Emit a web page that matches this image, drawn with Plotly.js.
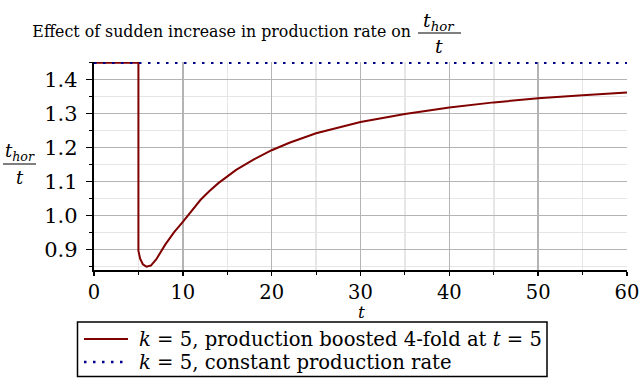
<!DOCTYPE html>
<html>
<head>
<meta charset="utf-8">
<script src="https://cdn.plot.ly/plotly-3.0.1.min.js"></script>
<style>html,body{margin:0;padding:0;background:#fff;}#chart{width:640px;height:379px;}</style>
</head>
<body>
<div id="chart"></div>
<script>
// Boosted production (k = 5, 4-fold boost at t = 5)
const boostedT = [0, 5, 5, 5.2, 5.5, 5.9, 6.4, 7, 8, 9, 10, 11, 12, 13, 14, 16, 18, 20, 22, 25, 30, 35, 40, 45, 50, 55, 60];
const boostedV = [1.45, 1.45, 0.895, 0.872, 0.856, 0.849, 0.852, 0.870, 0.913, 0.950, 0.981, 1.015, 1.046, 1.072, 1.095, 1.134, 1.165, 1.192, 1.214, 1.242, 1.275, 1.299, 1.318, 1.333, 1.345, 1.354, 1.362];
// Constant production rate (k = 5)
const constT = [0, 60];
const constV = [1.45, 1.45];

const xTicks = [0, 10, 20, 30, 40, 50, 60];
const yTicks = [0.9, 1.0, 1.1, 1.2, 1.3, 1.4];
const yTickText = ['0.9', '1.0', '1.1', '1.2', '1.3', '1.4'];

const seriesNames = ['<i>k</i> = 5, production boosted 4-fold at <i>t</i> = 5', '<i>k</i> = 5, constant production rate'];
const seriesColors = ['#800000', '#00008b'];
const dotDash = '2.5px,6.5px';

const serif = 'DejaVu Serif, serif';

const traces = [
  {
    x: boostedT, y: boostedV, type: 'scatter', mode: 'lines',
    line: {color: seriesColors[0], width: 2, shape: 'linear'},
    name: seriesNames[0], showlegend: false
  },
  {
    x: constT, y: constV, type: 'scatter', mode: 'lines',
    line: {color: seriesColors[1], width: 2.5, dash: dotDash},
    name: seriesNames[1], showlegend: false
  }
];

const L = 94, R = 13, T = 62, B = 109;
const W = 640 - L - R, H = 379 - T - B;
function px(p) { return (p - L) / W; }
function py(p) { return (379 - B - p) / H; }

const legendRows = [339, 362];
const legendAnn = seriesNames.map((s, i) => ({
  xref: 'paper', yref: 'paper', x: px(137), y: py(legendRows[i]), text: s, showarrow: false,
  font: {family: serif, size: 19.6, color: '#000'}, xanchor: 'left', yanchor: 'middle'
}));
const legendShapes = [
  {type: 'rect', xref: 'paper', yref: 'paper', x0: px(77.5), x1: px(547), y0: py(322), y1: py(376.5), line: {color: '#000', width: 1.5}, fillcolor: 'rgba(0,0,0,0)'},
  {type: 'line', xref: 'paper', yref: 'paper', x0: px(84), x1: px(128), y0: py(legendRows[0]), y1: py(legendRows[0]), line: {color: seriesColors[0], width: 2}},
  {type: 'line', xref: 'paper', yref: 'paper', x0: px(84), x1: px(128), y0: py(legendRows[1]), y1: py(legendRows[1]), line: {color: seriesColors[1], width: 2.5, dash: dotDash}}
];

const layout = {
  width: 640, height: 379,
  margin: {l: L, r: R, t: T, b: B, pad: 0, autoexpand: false},
  paper_bgcolor: '#fff', plot_bgcolor: '#fff',
  font: {family: serif, color: '#000', size: 16},
  title: {
    text: 'Effect of sudden increase in production rate on',
    font: {family: serif, size: 15.8, color: '#000'},
    xref: 'paper', x: px(411), xanchor: 'right',
    yref: 'container', y: 1 - 31 / 379, yanchor: 'middle'
  },
  xaxis: {
    range: [0, 60], tickvals: xTicks, ticktext: xTicks.map(String),
    showline: true, linecolor: '#000', linewidth: 2, mirror: false,
    ticks: 'outside', ticklen: 4, tickwidth: 1.5, tickcolor: '#000',
    showgrid: true, gridcolor: '#b4b4b4', gridwidth: 1.5,
    zeroline: false, automargin: false,
    minor: {dtick: 5, tick0: 0, showgrid: true, gridcolor: '#e6e6e6', gridwidth: 1.5, ticks: 'outside', ticklen: 3, tickcolor: '#000', tickwidth: 1},
    tickfont: {family: serif, size: 19.5, color: '#000'}
  },
  yaxis: {
    range: [0.839, 1.452], tickvals: yTicks, ticktext: yTickText.map(s => s + '\u2009'),
    showline: true, linecolor: '#000', linewidth: 2, mirror: false,
    ticks: 'outside', ticklen: 6, tickwidth: 1.5, tickcolor: '#000',
    showgrid: true, gridcolor: '#b4b4b4', gridwidth: 1.5,
    zeroline: false, automargin: false,
    minor: {dtick: 0.05, tick0: 0, showgrid: true, gridcolor: '#e6e6e6', gridwidth: 1.5, ticks: 'outside', ticklen: 3, tickcolor: '#000', tickwidth: 1},
    tickfont: {family: serif, size: 21, color: '#000'}
  },
  showlegend: false,
  annotations: [
    {xref: 'paper', yref: 'paper', x: px(439), y: py(21), text: '<i>t<sub>hor</sub></i>', showarrow: false, font: {family: serif, size: 19}, xanchor: 'center', yanchor: 'middle'},
    {xref: 'paper', yref: 'paper', x: px(439), y: py(46), text: '<i>t</i>', showarrow: false, font: {family: serif, size: 19}, xanchor: 'center', yanchor: 'middle'},
    {xref: 'paper', yref: 'paper', x: px(20), y: py(152), text: '<i>t<sub>hor</sub></i>', showarrow: false, font: {family: serif, size: 18}, xanchor: 'center', yanchor: 'middle'},
    {xref: 'paper', yref: 'paper', x: px(20), y: py(177), text: '<i>t</i>', showarrow: false, font: {family: serif, size: 18}, xanchor: 'center', yanchor: 'middle'},
    {xref: 'paper', yref: 'paper', x: px(361), y: py(312), text: '<i>t</i>', showarrow: false, font: {family: serif, size: 17}, xanchor: 'center', yanchor: 'middle'}
  ].concat(legendAnn),
  shapes: [
    {type: 'line', xref: 'paper', yref: 'paper', x0: px(418), x1: px(461), y0: py(33), y1: py(33), line: {color: '#000', width: 1.2}},
    {type: 'line', xref: 'paper', yref: 'paper', x0: px(3), x1: px(36), y0: py(164), y1: py(164), line: {color: '#000', width: 1.2}}
  ].concat(legendShapes)
};

Plotly.newPlot('chart', traces, layout, {displayModeBar: false, staticPlot: true});
</script>
</body>
</html>
